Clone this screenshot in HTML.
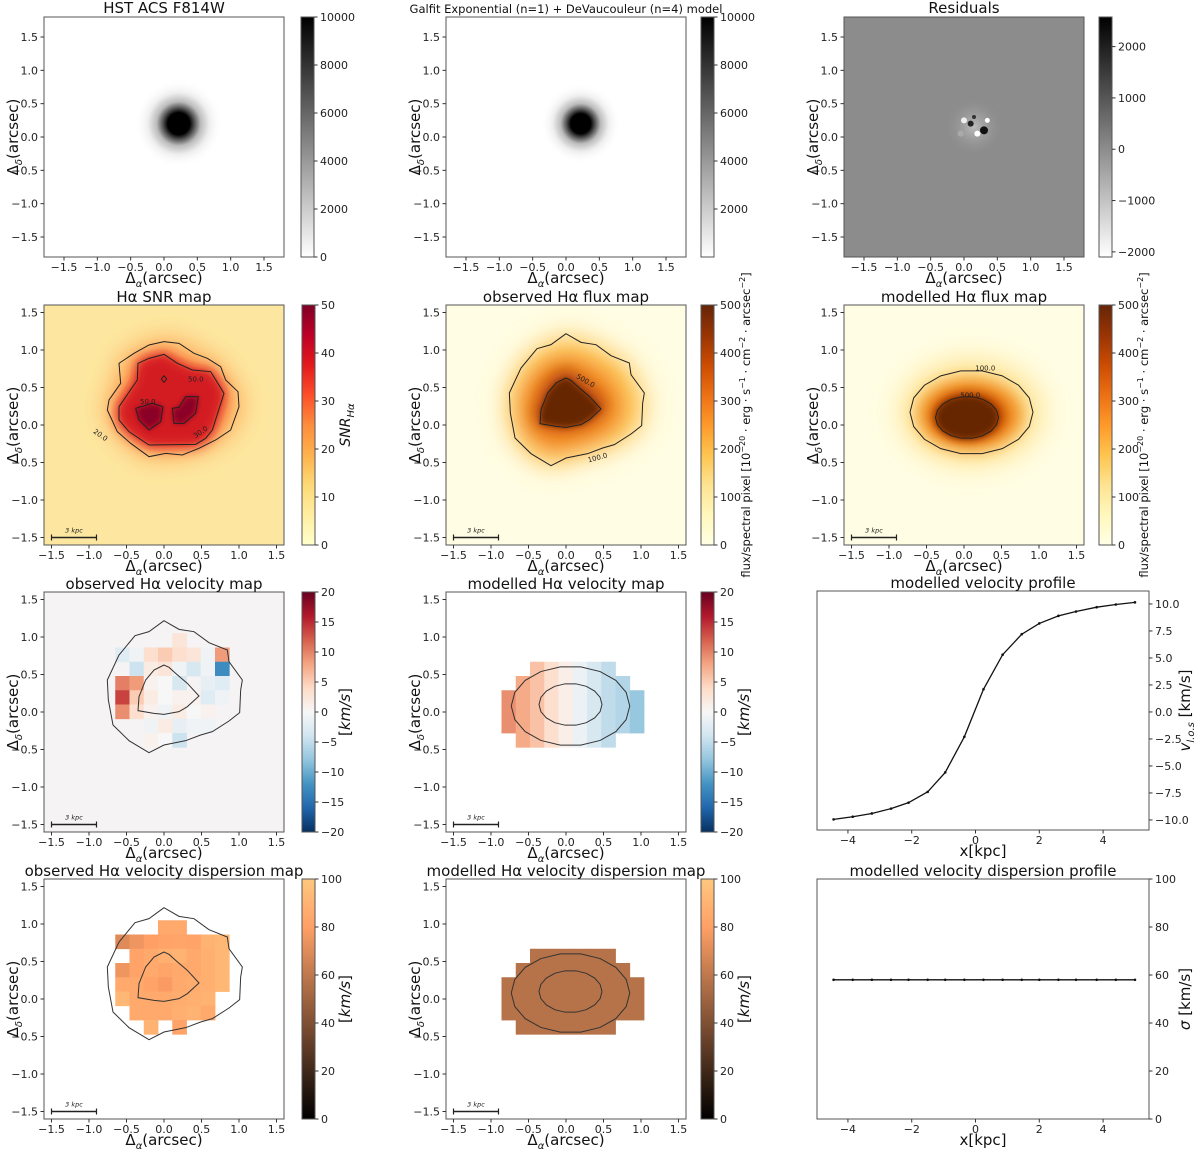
<!DOCTYPE html>
<html><head><meta charset="utf-8">
<style>
html,body{margin:0;padding:0;background:#fff;}
svg{display:block;font-family:"DejaVu Sans","Liberation Sans",sans-serif;}
</style></head>
<body>
<svg id="fig" width="1200" height="1151" viewBox="0 0 1200 1151" xmlns="http://www.w3.org/2000/svg">
<defs>
<filter id="blur8" x="-50%" y="-50%" width="200%" height="200%"><feGaussianBlur stdDeviation="8"/></filter>
<filter id="blur5" x="-50%" y="-50%" width="200%" height="200%"><feGaussianBlur stdDeviation="5"/></filter>
<filter id="blur3" x="-50%" y="-50%" width="200%" height="200%"><feGaussianBlur stdDeviation="3"/></filter>
<filter id="blur14" x="-50%" y="-50%" width="200%" height="200%"><feGaussianBlur stdDeviation="14"/></filter>
<radialGradient id="galA"><stop offset="0" stop-color="#000"/><stop offset="0.25" stop-color="#000"/><stop offset="0.36" stop-color="#555"/><stop offset="0.5" stop-color="#bbb"/><stop offset="0.7" stop-color="#eee"/><stop offset="1" stop-color="#fff" stop-opacity="0"/></radialGradient>
<radialGradient id="resid"><stop offset="0" stop-color="#bbb"/><stop offset="1" stop-color="#8c8c8c" stop-opacity="0"/></radialGradient>
<linearGradient id="cbGrey" x1="0" y1="1" x2="0" y2="0"><stop offset="0" stop-color="#fff"/><stop offset="1" stop-color="#000"/></linearGradient>
<linearGradient id="cbYlOrRd" x1="0" y1="1" x2="0" y2="0"><stop offset="0" stop-color="#ffffcc"/><stop offset="0.125" stop-color="#ffeda0"/><stop offset="0.25" stop-color="#fed976"/><stop offset="0.375" stop-color="#feb24c"/><stop offset="0.5" stop-color="#fd8d3c"/><stop offset="0.625" stop-color="#fc4e2a"/><stop offset="0.75" stop-color="#e31a1c"/><stop offset="0.875" stop-color="#bd0026"/><stop offset="1" stop-color="#800026"/></linearGradient>
<linearGradient id="cbYlOrBr" x1="0" y1="1" x2="0" y2="0"><stop offset="0" stop-color="#ffffe5"/><stop offset="0.125" stop-color="#fff7bc"/><stop offset="0.25" stop-color="#fee391"/><stop offset="0.375" stop-color="#fec44f"/><stop offset="0.5" stop-color="#fe9929"/><stop offset="0.625" stop-color="#ec7014"/><stop offset="0.75" stop-color="#cc4c02"/><stop offset="0.875" stop-color="#993404"/><stop offset="1" stop-color="#662506"/></linearGradient>
<linearGradient id="cbRdBu" x1="0" y1="1" x2="0" y2="0"><stop offset="0" stop-color="#053061"/><stop offset="0.1" stop-color="#2166ac"/><stop offset="0.2" stop-color="#4393c3"/><stop offset="0.3" stop-color="#92c5de"/><stop offset="0.4" stop-color="#d1e5f0"/><stop offset="0.5" stop-color="#f7f7f7"/><stop offset="0.6" stop-color="#fddbc7"/><stop offset="0.7" stop-color="#f4a582"/><stop offset="0.8" stop-color="#d6604d"/><stop offset="0.9" stop-color="#b2182b"/><stop offset="1" stop-color="#67001f"/></linearGradient>
<linearGradient id="cbCopper" x1="0" y1="1" x2="0" y2="0"><stop offset="0" stop-color="#000"/><stop offset="0.8" stop-color="#ffa066"/><stop offset="1" stop-color="#ffc77f"/></linearGradient>
</defs>
</svg>
<script>
// ---------- chart data ----------
const velProfileX = [-4.45,-3.85,-3.25,-2.65,-2.1,-1.5,-0.95,-0.35,0.25,0.85,1.45,2.0,2.6,3.15,3.8,4.4,5.0];
const velProfileV = [-9.95,-9.7,-9.4,-8.95,-8.4,-7.4,-5.6,-2.3,2.1,5.3,7.2,8.2,8.9,9.3,9.7,9.95,10.15];
const dispProfileX = [-4.45,-3.85,-3.25,-2.65,-2.1,-1.5,-0.95,-0.35,0.25,0.85,1.45,2.0,2.6,3.15,3.8,4.4,5.0];
const dispProfileS = [58,58,58,58,58,58,58,58,58,58,58,58,58,58,58,58,58];
const velProfileYTicks = [-10,-7.5,-5,-2.5,0,2.5,5,7.5,10];
const profileXTicks = [-4,-2,0,2,4];
const dispProfileYTicks = [0,20,40,60,80,100];
const imgTicksRow1 = [-1.5,-1.0,-0.5,0.0,0.5,1.0,1.5];
const imgTicks = [-1.5,-1.0,-0.5,0.0,0.5,1.0,1.5];
const obsVel = [
 [null,null,null,null,3,null,null,null],
 [-3,-1,4,6,4,3,-1,10],
 [null,-5,2,3,-1,-4,-1,-15],
 [12,10,1,0,-4,null,-2,-3],
 [16,6,2,0,1,1,-3,-1],
 [11,4,1,-1,2,0,1,null],
 [null,null,-1,2,-2,-1,-1,null],
 [null,null,1,0,-5,null,null,null]];
const modVelCols = [11,9,7,4,1.5,-1.5,-4,-6,-7,-9];
const modMask = [
 [0,0,1,1,1,1,1,1,0,0],
 [0,1,1,1,1,1,1,1,1,0],
 [1,1,1,1,1,1,1,1,1,1],
 [1,1,1,1,1,1,1,1,1,1],
 [1,1,1,1,1,1,1,1,1,1],
 [0,1,1,1,1,1,1,1,0,0]];
const obsDisp = [
 [null,null,null,85,85,null,null,null],
 [70,75,80,82,83,82,90,92],
 [null,82,85,88,90,85,88,92],
 [75,82,85,83,85,85,88,92],
 [85,85,82,78,85,87,88,92],
 [92,85,85,85,87,88,90,null],
 [null,85,85,85,88,90,85,null],
 [null,null,90,null,82,null,null,null]];
const modDispValue = 57;
const cbTicksHST = [0,2000,4000,6000,8000,10000];
const cbTicksModel = [2000,4000,6000,8000,10000];
const cbTicksResid = [-2000,-1000,0,1000,2000];
const cbTicksSNR = [0,10,20,30,40,50];
const cbTicksFlux = [0,100,200,300,400,500];
const cbTicksVel = [-20,-15,-10,-5,0,5,10,15,20];
const cbTicksDisp = [0,20,40,60,80,100];

// ---------- helpers ----------
const NS='http://www.w3.org/2000/svg';
const svg=document.getElementById('fig');
function el(tag,parent){const e=document.createElementNS(NS,tag);(parent||svg).appendChild(e);return e;}
function at(e,o){for(const k in o)e.setAttribute(k,o[k]);return e;}
function fmt(v,d){const s=v.toFixed(d);return s.replace('-','\u2212');}
function lerpStops(stops,t){t=Math.max(0,Math.min(1,t));const n=stops.length-1;const i=Math.min(n-1,Math.floor(t*n));const f=t*n-i;const a=stops[i],b=stops[i+1];const h=x=>[parseInt(x.slice(1,3),16),parseInt(x.slice(3,5),16),parseInt(x.slice(5,7),16)];const A=h(a),B=h(b);return 'rgb('+A.map((v,k)=>Math.round(v+(B[k]-v)*f)).join(',')+')';}
const RDBU=['#053061','#2166ac','#4393c3','#92c5de','#d1e5f0','#f7f7f7','#fddbc7','#f4a582','#d6604d','#b2182b','#67001f'];
function rdbu(v){return lerpStops(RDBU,(v+20)/40);}
function copper(v){const t=v/100;return 'rgb('+Math.round(255*Math.min(1,1.25*t))+','+Math.round(255*0.7812*t)+','+Math.round(255*0.4975*t)+')';}

let clipId=0;
function makePanel(name,x0,y0,w,h,xmin,xmax,ymin,ymax){
  const g=el('g');
  
  
  const id='clip'+(clipId++);
  const cp=el('clipPath',svg.querySelector('defs'));at(cp,{id:id});
  at(el('rect',cp),{x:x0,y:y0,width:w,height:h});
  const content=el('g',g);at(content,{'clip-path':'url(#'+id+')'});
  return {g,content,x0,y0,w,h,
    sx:v=>x0+(v-xmin)/(xmax-xmin)*w,
    sy:v=>y0+h-(v-ymin)/(ymax-ymin)*h};
}
function frame(p){const r=el('rect',p.g);at(r,{x:p.x0,y:p.y0,width:p.w,height:p.h,fill:'none',stroke:'#555','stroke-width':1});
  }
function text(parent,x,y,str,o){const t=el('text',parent);at(t,Object.assign({x:x,y:y,'font-size':11,fill:'#222'},o||{}));t.textContent=str;return t;}
function xTicks(p,ticks,d){ticks.forEach(v=>{const x=p.sx(v);at(el('line',p.g),{x1:x,x2:x,y1:p.y0+p.h,y2:p.y0+p.h+3.5,stroke:'#333'});
  const t=text(p.g,x,p.y0+p.h+14,fmt(v,d),{'text-anchor':'middle'});});}
function yTicksLeft(p,ticks,d){ticks.forEach(v=>{const y=p.sy(v);at(el('line',p.g),{x1:p.x0-3.5,x2:p.x0,y1:y,y2:y,stroke:'#333'});
  const t=text(p.g,p.x0-6,y+4,fmt(v,d),{'text-anchor':'end'});});}
function yTicksRight(p,ticks,d){ticks.forEach(v=>{const y=p.sy(v);at(el('line',p.g),{x1:p.x0+p.w,x2:p.x0+p.w+3.5,y1:y,y2:y,stroke:'#333'});
  const t=text(p.g,p.x0+p.w+6,y+4,fmt(v,d),{'text-anchor':'start'});});}
function title(x,y,str,size){const t=text(svg,x,y,str,{'text-anchor':'middle','font-size':size||15,fill:'#111'});return t;}
function xLabelA(x,y){const t=el('text');at(t,{x:x,y:y,'text-anchor':'middle','font-size':15,fill:'#111'});
  t.innerHTML='Δ<tspan font-size="10" dy="4" font-style="italic">α</tspan><tspan dy="-4">(arcsec)</tspan>';
  }
function yLabelD(x,y){const t=el('text');at(t,{x:0,y:0,transform:'translate('+x+','+y+') rotate(-90)','text-anchor':'middle','font-size':15,fill:'#111'});
  t.innerHTML='Δ<tspan font-size="10" dy="4" font-style="italic">δ</tspan><tspan dy="-4">(arcsec)</tspan>';
  }
function colorbar(name,x,y,w,h,grad,vmin,vmax,ticks,d){
  const g=el('g');
  at(el('rect',g),{x:x,y:y,width:w,height:h,fill:'url(#'+grad+')',stroke:'#555','stroke-width':1});
  ticks.forEach(v=>{const yy=y+h-(v-vmin)/(vmax-vmin)*h;at(el('line',g),{x1:x+w,x2:x+w+3.5,y1:yy,y2:yy,stroke:'#333'});
    const t=text(g,x+w+6,yy+4,fmt(v,d),{});});
  return g;}
function cbLabel(x,y,html,size){const t=el('text');at(t,{x:0,y:0,transform:'translate('+x+','+y+') rotate(-90)','text-anchor':'middle','font-size':size||15,fill:'#111'});t.innerHTML=html;
  }
function poly(parent,pts,p,o){const e=el('polygon',parent);at(e,Object.assign({points:pts.map(q=>p.sx(q[0])+','+p.sy(q[1])).join(' ')},o));return e;}
function scaleBar(p){const g=el('g',p.g);
  const x1=p.sx(-1.5),x2=p.sx(-0.9),y=p.sy(-1.5);
  at(el('line',g),{x1:x1,x2:x2,y1:y,y2:y,stroke:'#222','stroke-width':1.5});
  at(el('line',g),{x1:x1,x2:x1,y1:y-3,y2:y+3,stroke:'#222','stroke-width':1.2});
  at(el('line',g),{x1:x2,x2:x2,y1:y-3,y2:y+3,stroke:'#222','stroke-width':1.2});
  text(g,(x1+x2)/2,y-5,'3 kpc',{'text-anchor':'middle','font-size':6.5,'font-style':'italic'});}

const zc=(pts,ox,oy)=>pts.map(q=>[(q[0]/3-ox)/75,(oy-q[1]/3)/75]);
const obsOuter=zc([[375,92],[330,125],[288,137],[240,195],[205,270],[208,330],[222,405],[270,452],[330,488],[375,465],[440,452],[485,435],[520,425],[570,393],[602,368],[605,300],[610,270],[570,215],[565,180],[510,158],[465,125],[420,118]],125,122);
const obsInner=zc([[375,225],[345,240],[320,270],[300,320],[297,362],[345,370],[375,373],[420,365],[445,350],[480,318],[445,280],[410,250],[390,232]],125,122);
const snrOuter=zc([[375,125],[330,135],[285,160],[240,190],[245,250],[210,300],[205,330],[235,395],[275,430],[330,470],[380,460],[430,465],[480,445],[530,420],[575,390],[600,320],[597,275],[560,240],[545,200],[505,175],[465,160],[420,130]],125,125);
const snr30=zc([[375,163],[330,175],[297,190],[295,240],[240,320],[240,360],[270,395],[330,435],[470,433],[500,415],[520,390],[555,280],[515,215],[460,210],[415,190]],125,125);
const snr50a=zc([[290,325],[300,360],[330,390],[365,365],[372,320],[340,310]],125,125);
const snr50b=zc([[400,325],[405,370],[435,370],[470,340],[478,290],[440,290],[420,322]],125,125);
const diamond=zc([[375,227],[383,237],[375,247],[367,237]],125,125);
function ellipsePts(cx,cy,rx,ry){const a=[];for(let i=0;i<18;i++){const t=i/18*2*Math.PI;a.push([cx+rx*Math.cos(t),cy+ry*Math.sin(t)]);}return a;}
const modOuter=ellipsePts(0.06,0.08,0.79,0.53);
const modInner=ellipsePts(0.06,0.1,0.42,0.28);

// ---------- ROW 1 ----------
const W=240;
function row1Panel(name,x0,bg){const p=makePanel(name,x0,17,W,W,-1.8,1.8,-1.8,1.8);at(el('rect',p.content),{x:x0,y:17,width:W,height:W,fill:bg});return p;}
let p=row1Panel('hst-image-panel',44,'#fff');
at(el('circle',p.content),{cx:p.sx(0.22),cy:p.sy(0.2),r:44,fill:'url(#galA)'});
at(el('circle',p.content),{cx:p.sx(0.22),cy:p.sy(0.2),r:11,fill:'#000'});
frame(p);xTicks(p,imgTicksRow1,1);yTicksLeft(p,imgTicksRow1,1);
title(164,13,'HST ACS F814W');xLabelA(164,283);yLabelD(18,137);
colorbar('hst-colorbar',301,17,13,240,'cbGrey',0,10000,cbTicksHST,0);

p=row1Panel('galfit-model-panel',446,'#fff');
at(el('circle',p.content),{cx:p.sx(0.22),cy:p.sy(0.2),r:40,fill:'url(#galA)'});
at(el('circle',p.content),{cx:p.sx(0.22),cy:p.sy(0.2),r:10,fill:'#000'});
frame(p);xTicks(p,imgTicksRow1,1);yTicksLeft(p,imgTicksRow1,1);
title(566,13,'Galfit Exponential (n=1) + DeVaucouleur (n=4) model',11.5);xLabelA(566,283);yLabelD(420,137);
colorbar('galfit-colorbar',701,17,13,240,'cbGrey',0,10000,cbTicksModel,0);

p=row1Panel('residuals-panel',844,'#8c8c8c');
at(el('circle',p.content),{cx:p.sx(0.15),cy:p.sy(0.15),r:30,fill:'url(#resid)'});
[[0.1,0.2,'#222',3],[0.3,0.1,'#111',4],[0.2,0.05,'#fff',3],[0.0,0.25,'#eee',3],[0.35,0.25,'#fff',2.5],[0.15,0.3,'#333',2],[-0.05,0.05,'#aaa',3]].forEach(b=>at(el('circle',p.content),{cx:p.sx(b[0]),cy:p.sy(b[1]),r:b[3],fill:b[2]}));
frame(p);xTicks(p,imgTicksRow1,1);yTicksLeft(p,imgTicksRow1,1);
title(964,13,'Residuals');xLabelA(964,283);yLabelD(818,137);
colorbar('residuals-colorbar',1099,17,13,240,'cbGrey',-2100,2577,cbTicksResid,0);

// ---------- ROW 2 ----------
function imgPanel(name,x0,y0,bg){const p=makePanel(name,x0,y0,W,W,-1.6,1.6,-1.6,1.6);at(el('rect',p.content),{x:x0,y:y0,width:W,height:W,fill:bg});return p;}
p=imgPanel('snr-map-panel',44,305,'#fde7a0');
poly(p.content,snrOuter,p,{fill:'#fd9a45',filter:'url(#blur14)'});
poly(p.content,snr30,p,{fill:'#e8252a',filter:'url(#blur8)'});
poly(p.content,snr30,p,{fill:'#d31a22',filter:'url(#blur5)'});
poly(p.content,snr50a,p,{fill:'#8a0026',filter:'url(#blur3)'});
poly(p.content,snr50b,p,{fill:'#8a0026',filter:'url(#blur3)'});
[snrOuter,snr30,snr50a,snr50b,diamond].forEach(c=>poly(p.content,c,p,{fill:'none',stroke:'#222','stroke-width':1}));
text(p.content,p.sx(-0.95),p.sy(-0.1),'20.0',{'font-size':7,transform:'rotate(35 '+p.sx(-0.95)+' '+p.sy(-0.1)+')'});
text(p.content,p.sx(0.42),p.sy(-0.18),'30.0',{'font-size':7,transform:'rotate(-35 '+p.sx(0.42)+' '+p.sy(-0.18)+')'});
text(p.content,p.sx(-0.32),p.sy(0.28),'50.0',{'font-size':7});
text(p.content,p.sx(0.32),p.sy(0.58),'50.0',{'font-size':7});
scaleBar(p);frame(p);xTicks(p,imgTicks,1);yTicksLeft(p,imgTicks,1);
title(164,302,'Hα SNR map');xLabelA(164,571);yLabelD(18,425);
colorbar('snr-colorbar',302,305,13,240,'cbYlOrRd',0,50,cbTicksSNR,0);
cbLabel(350,425,'<tspan font-style="italic">SNR</tspan><tspan font-size="10" dy="4" font-style="italic">Hα</tspan>',14);

function fluxLabel(x){cbLabel(x,425,'flux/spectral pixel [10<tspan font-size="8" dy="-5">−20</tspan><tspan dy="5"> · erg · s</tspan><tspan font-size="8" dy="-5">−1</tspan><tspan dy="5"> · cm</tspan><tspan font-size="8" dy="-5">−2</tspan><tspan dy="5"> · arcsec</tspan><tspan font-size="8" dy="-5">−2</tspan><tspan dy="5">]</tspan>',11.5);}
p=imgPanel('observed-flux-panel',446,305,'#fffde3');
poly(p.content,obsOuter,p,{fill:'#fec44f',filter:'url(#blur14)'});
poly(p.content,obsOuter.map(q=>[q[0]*0.7-0.03,q[1]*0.7+0.05]),p,{fill:'#ec7014',filter:'url(#blur14)'});
poly(p.content,obsInner.map(q=>[q[0]*1.2,q[1]*1.2]),p,{fill:'#b2470a',filter:'url(#blur8)'});
poly(p.content,obsInner,p,{fill:'#662506',filter:'url(#blur3)'});
[obsOuter,obsInner].forEach(c=>poly(p.content,c,p,{fill:'none',stroke:'#222','stroke-width':1}));
text(p.content,p.sx(0.13),p.sy(0.63),'500.0',{'font-size':7,transform:'rotate(30 '+p.sx(0.13)+' '+p.sy(0.63)+')'});
text(p.content,p.sx(0.3),p.sy(-0.5),'100.0',{'font-size':7,transform:'rotate(-15 '+p.sx(0.3)+' '+p.sy(-0.5)+')'});
scaleBar(p);frame(p);xTicks(p,imgTicks,1);yTicksLeft(p,imgTicks,1);
title(566,302,'observed Hα flux map');xLabelA(566,571);yLabelD(420,425);
colorbar('observed-flux-colorbar',701,305,13,240,'cbYlOrBr',0,500,cbTicksFlux,0);fluxLabel(750);

p=imgPanel('modelled-flux-panel',844,305,'#fffde3');
poly(p.content,ellipsePts(0.1,0.17,0.95,0.7),p,{fill:'#fee391',filter:'url(#blur14)'});
poly(p.content,ellipsePts(0.08,0.14,0.7,0.48),p,{fill:'#f08a1c',filter:'url(#blur8)'});
poly(p.content,ellipsePts(0.06,0.12,0.5,0.34),p,{fill:'#c04a05',filter:'url(#blur5)'});
poly(p.content,ellipsePts(0.04,0.1,0.42,0.29),p,{fill:'#662506',filter:'url(#blur3)'});
poly(p.content,ellipsePts(0.1,0.17,0.82,0.56),p,{fill:'none',stroke:'#222','stroke-width':1});
poly(p.content,ellipsePts(0.04,0.1,0.42,0.28),p,{fill:'none',stroke:'#222','stroke-width':1});
text(p.content,p.sx(0.15),p.sy(0.73),'100.0',{'font-size':7});
text(p.content,p.sx(-0.05),p.sy(0.37),'500.0',{'font-size':7});
scaleBar(p);frame(p);xTicks(p,imgTicks,1);yTicksLeft(p,imgTicks,1);
title(964,302,'modelled  Hα flux map');xLabelA(964,571);yLabelD(818,425);
colorbar('modelled-flux-colorbar',1099,305,13,240,'cbYlOrBr',0,500,cbTicksFlux,0);fluxLabel(1148);

// ---------- ROW 3 ----------
const CELL=0.19, GX0=-0.65, GY0=1.05;
function drawGrid(p,grid,colorFn,name){const g=el('g',p.content);
  grid.forEach((row,r)=>row.forEach((v,c)=>{if(v===null)return;const x=p.sx(GX0+c*CELL),y=p.sy(GY0-r*CELL);
    const e=el('rect',g);at(e,{x:x,y:y,width:p.sx(CELL)-p.sx(0)+0.4,height:p.sy(0)-p.sy(CELL)+0.4,fill:colorFn(v)});
    }));}
const MX0=-0.86, MY0=0.67;
function modelGrid(p,colorFn,name){const g=el('g',p.content);
  modMask.forEach((row,r)=>row.forEach((m,c)=>{if(!m)return;const x=p.sx(MX0+c*CELL),y=p.sy(MY0-r*CELL);
    const e=el('rect',g);at(e,{x:x,y:y,width:p.sx(CELL)-p.sx(0)+0.4,height:p.sy(0)-p.sy(CELL)+0.4,fill:colorFn(modVelCols[c])});
    }));}

p=makePanel('observed-velocity-panel',44,592,W,W,-1.6,1.6,-1.6,1.6);
at(el('rect',p.content),{x:44,y:592,width:W,height:W,fill:'#f5f3f3'});
drawGrid(p,obsVel,v=>rdbu(v*0.85),'observed-velocity-cells');
[obsOuter,obsInner].forEach(c=>poly(p.content,c,p,{fill:'none',stroke:'#333','stroke-width':1}));
scaleBar(p);frame(p);xTicks(p,imgTicks,1);yTicksLeft(p,imgTicks,1);
title(164,589,'observed Hα velocity map');xLabelA(164,858);yLabelD(18,712);
colorbar('observed-velocity-colorbar',302,592,13,240,'cbRdBu',-20,20,cbTicksVel,0);cbLabel(350,712,'[<tspan font-style="italic">km/s</tspan>]',15);

p=makePanel('modelled-velocity-panel',446,592,W,W,-1.6,1.6,-1.6,1.6);
at(el('rect',p.content),{x:446,y:592,width:W,height:W,fill:'#fff'});
modelGrid(p,v=>rdbu(v*0.85),'modelled-velocity-cells');
[modOuter,modInner].forEach(c=>poly(p.content,c,p,{fill:'none',stroke:'#333','stroke-width':1}));
scaleBar(p);frame(p);xTicks(p,imgTicks,1);yTicksLeft(p,imgTicks,1);
title(566,589,'modelled  Hα velocity map');xLabelA(566,858);yLabelD(420,712);
colorbar('modelled-velocity-colorbar',701,592,13,240,'cbRdBu',-20,20,cbTicksVel,0);cbLabel(749,712,'[<tspan font-style="italic">km/s</tspan>]',15);

function profile(name,y0,h,ymin,ymax,xs,ys,yticks,yd,ttl,ylab){
  const q=makePanel(name,817,y0,332,h,-4.97,5.44,ymin,ymax);
  const line=el('polyline',q.content);at(line,{points:xs.map((x,i)=>q.sx(x)+','+q.sy(ys[i])).join(' '),fill:'none',stroke:'#111','stroke-width':1.3});
  
  xs.forEach((x,i)=>{const c=el('circle',q.content);at(c,{cx:q.sx(x),cy:q.sy(ys[i]),r:1.3,fill:'#111'});
    });
  frame(q);xTicks(q,profileXTicks,0);yTicksRight(q,yticks,yd);
  title(983,y0-3,ttl);
  const xl=text(svg,983,y0+h+26,'x[kpc]',{'text-anchor':'middle','font-size':15,fill:'#111'});
  
  cbLabel(1190,y0+h/2,ylab,15);
}
profile('velocity-profile-panel',591,239,-10.93,11.2,velProfileX,velProfileV,velProfileYTicks,1,'modelled  velocity profile','<tspan font-style="italic">v</tspan><tspan font-size="10" dy="4" font-style="italic">l.o.s</tspan><tspan dy="-4"> [km/s]</tspan>');

// ---------- ROW 4 ----------
p=makePanel('observed-dispersion-panel',44,879,W,W,-1.6,1.6,-1.6,1.6);
at(el('rect',p.content),{x:44,y:879,width:W,height:W,fill:'#fff'});
drawGrid(p,obsDisp,copper,'observed-dispersion-cells');
[obsOuter,obsInner].forEach(c=>poly(p.content,c,p,{fill:'none',stroke:'#333','stroke-width':1}));
scaleBar(p);frame(p);xTicks(p,imgTicks,1);yTicksLeft(p,imgTicks,1);
title(164,876,'observed Hα velocity dispersion map');xLabelA(164,1145);yLabelD(18,999);
colorbar('observed-dispersion-colorbar',302,879,13,240,'cbCopper',0,100,cbTicksDisp,0);cbLabel(350,999,'[<tspan font-style="italic">km/s</tspan>]',15);

p=makePanel('modelled-dispersion-panel',446,879,W,W,-1.6,1.6,-1.6,1.6);
at(el('rect',p.content),{x:446,y:879,width:W,height:W,fill:'#fff'});
modelGrid(p,()=>copper(modDispValue),'modelled-dispersion-cells');
[modOuter,modInner].forEach(c=>poly(p.content,c,p,{fill:'none',stroke:'#333','stroke-width':1}));
scaleBar(p);frame(p);xTicks(p,imgTicks,1);yTicksLeft(p,imgTicks,1);
title(566,876,'modelled  Hα velocity dispersion map');xLabelA(566,1145);yLabelD(420,999);
colorbar('modelled-dispersion-colorbar',701,879,13,240,'cbCopper',0,100,cbTicksDisp,0);cbLabel(749,999,'[<tspan font-style="italic">km/s</tspan>]',15);

profile('dispersion-profile-panel',879,240,0,100,dispProfileX,dispProfileS,dispProfileYTicks,0,'modelled  velocity dispersion profile','<tspan font-style="italic">σ</tspan> [km/s]');
</script>
</body></html>
